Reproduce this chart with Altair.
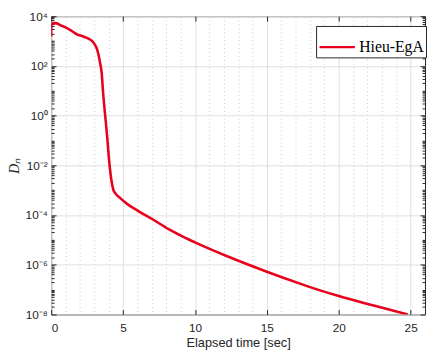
import altair as alt
import pandas as pd

# Data (time in seconds, log10 of D_n)
time_s = [0.0, 0.0, 0.18, 0.4, 0.63, 1.0, 1.31, 1.6, 1.87, 2.15, 2.43, 2.7, 2.88, 3.05,
          3.16, 3.28, 3.38, 3.52, 3.6, 3.74, 3.88, 4.03, 4.12, 4.19, 4.26, 4.33, 4.5,
          4.82, 5.3, 5.95, 7.08, 8.2, 9.33, 10.0, 12.5, 15.0, 17.5, 17.8, 20.0, 22.5, 24.8]
log_dn = [3.18, 3.62, 3.72, 3.71, 3.64, 3.55, 3.45, 3.34, 3.25, 3.2, 3.14, 3.06, 2.98, 2.85,
          2.72, 2.48, 2.19, 1.67, 1.01, 0.09, -0.75, -1.81, -2.3, -2.6, -2.83, -3.0, -3.15,
          -3.33, -3.56, -3.8, -4.18, -4.58, -4.92, -5.1, -5.72, -6.28, -6.8, -6.86, -7.26, -7.65, -8.0]
series_name = "Hieu-EgA"

x_major = [0, 5, 10, 15, 20, 25]
x_minor = [i for i in range(1, 26) if i % 5 != 0]
y_major = [1e-8, 1e-6, 1e-4, 1e-2, 1e0, 1e2, 1e4]
y_minor = [k * 10.0 ** d for d in range(-8, 4) for k in range(2, 10)] + [1e-7, 1e-5, 1e-3, 1e-1, 1e1, 1e3]

df = pd.DataFrame({
    "t": time_s,
    "dn": [10.0 ** v for v in log_dn],
    "idx": list(range(len(time_s))),
    "series": [series_name] * len(time_s),
})

W, H = 381, 304
AX = "#262626"
xscale = alt.Scale(domain=[0, 26], nice=False, zero=False)
yscale = alt.Scale(type="log", domain=[1e-8, 1e4], nice=False)

exp_expr = "round(log(datum.value)/LN10)"
sup = {4: "10⁴", 2: "10²", 0: "10⁰", -2: "10⁻²", -4: "10⁻⁴", -6: "10⁻⁶", -8: "10⁻⁸"}
label_expr = ""
for k, v in sup.items():
    label_expr += f"{exp_expr}=={k} ? '{v}' : "
label_expr += "''"

main = alt.Chart(df).mark_line(strokeWidth=2.6, clip=True, interpolate="monotone").encode(
    x=alt.X("t:Q", scale=xscale, axis=alt.Axis(
        orient="bottom", values=x_major, grid=True, gridColor="#dedede", tickSize=0,
        domain=False, labelPadding=8, title="Elapsed time [sec]", titlePadding=4,
        titleFontWeight="normal", titleFontSize=13, labelFontSize=12)),
    y=alt.Y("dn:Q", scale=yscale, axis=alt.Axis(
        orient="left", values=y_major, grid=True, gridColor="#dedede", tickSize=0,
        domain=False, labelExpr=label_expr, labelPadding=4, title="Dₙ",
        titleFont="Liberation Serif", titleFontStyle="italic", titleFontWeight="normal",
        titleFontSize=14, titlePadding=4, labelFontSize=12)),
    color=alt.Color("series:N", scale=alt.Scale(domain=[series_name], range=["#e8001c"]),
                    legend=alt.Legend(orient="none", legendX=270, legendY=10, title=None,
                                      symbolType="stroke", symbolSize=1300,
                                      symbolStrokeWidth=2.2, labelFont="Liberation Serif",
                                      labelFontSize=16, labelColor="black", padding=2,
                                      strokeColor=AX, fillColor="white", labelOffset=3)),
    order="idx:Q",
)

def ghost(xaxis, yaxis):
    return alt.Chart(df).mark_line(opacity=0).encode(
        x=alt.X("t:Q", scale=xscale, axis=xaxis),
        y=alt.Y("dn:Q", scale=yscale, axis=yaxis),
        order="idx:Q",
    )

def tick_axis(orient, values, size, offset, grid=False, **kw):
    return alt.Axis(orient=orient, values=values, tickSize=size, offset=offset,
                    labels=False, domain=False, grid=grid, title="", tickColor=AX, **kw)

layer_a = ghost(tick_axis("bottom", x_major, 5, -H), tick_axis("right", y_major, 5, -W))
layer_b = ghost(tick_axis("top", x_major, 5, -H), tick_axis("left", y_major, 5, -W))
layer_c = ghost(alt.Axis(orient="bottom", values=x_minor, grid=True, gridColor="#c8c8c8",
                         gridDash=[1, 3], ticks=False, labels=False, domain=False, title=""),
                tick_axis("right", y_minor, 3, -W))
layer_d = ghost(None, tick_axis("left", y_minor, 3, -W))

chart = alt.layer(layer_c, layer_a, layer_b, layer_d, main).resolve_axis(
    x="independent", y="independent"
).properties(
    width=W, height=H,
    autosize=alt.AutoSizeParams(type="none"),
    padding={"left": 44, "top": 5, "right": 2, "bottom": 40},
).configure_view(stroke=AX, strokeWidth=1).configure_axis(
    labelFont="Liberation Sans", titleFont="Liberation Sans", labelColor=AX, titleColor=AX
)

chart.save("out.html", embed_options={"renderer": "svg", "actions": False})
